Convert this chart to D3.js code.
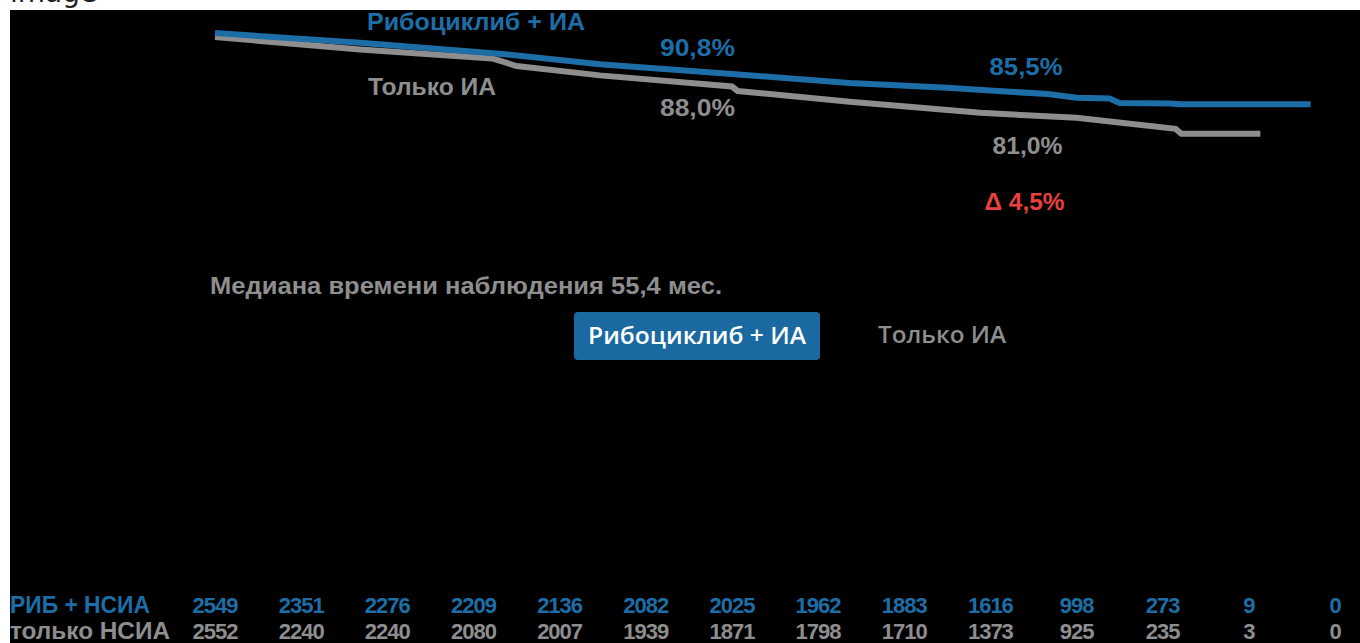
<!DOCTYPE html>
<html>
<head>
<meta charset="utf-8">
<script src="https://cdn.jsdelivr.net/npm/d3@7"></script>
<style>
  html, body { margin: 0; padding: 0; background: #ffffff; }
  svg { display: block; }
</style>
</head>
<body>
<svg id="chart" width="1360" height="643"></svg>
<script>
// Kaplan–Meier style survival curves (months vs. % event-free)
const ribTime = [0, 10.1, 20, 26.8, 36, 44.2, 51, 58, 60, 62.3, 63, 66.5, 67.2, 76.3];
const ribSurv = [100, 97.8, 95.3, 93.0, 90.8, 88.8, 87.7, 86.3, 85.5, 85.3, 84.3, 84.2, 84.0, 84.0];

const aiTime = [0, 10.1, 19.3, 21, 26.8, 36, 36.4, 44.2, 53.3, 60, 66.9, 67.3, 72.8];
const aiSurv = [99.1, 96.3, 94.3, 92.6, 90.5, 88.0, 87.0, 84.6, 82.1, 81.0, 78.5, 77.4, 77.4];

// Number-at-risk table
const riskMonths = [0, 6, 12, 18, 24, 30, 36, 42, 48, 54, 60, 66, 72, 78];
const riskRib = [2549, 2351, 2276, 2209, 2136, 2082, 2025, 1962, 1883, 1616, 998, 273, 9, 0];
const riskAI = [2552, 2240, 2240, 2080, 2007, 1939, 1871, 1798, 1710, 1373, 925, 235, 3, 0];
const riskLabels = ["РИБ + НСИА", "только НСИА"];

// Landmark estimates
const landmarkMonths = [36, 60];
const ribLandmark = [90.8, 85.5];
const aiLandmark = [88.0, 81.0];
const deltaLabel = "Δ 4,5%";

const seriesNames = ["Рибоциклиб + ИА", "Только ИА"];
const followUpText = "Медиана времени наблюдения 55,4 мес.";

const BLUE = "#1d6ea6";
const GRAY = "#8e8e8e";
const RED = "#ea403f";
const FONT = "'Liberation Sans', Arial, sans-serif";

const svg = d3.select("#chart");

// page strip and caption above the dark panel
svg.append("rect").attr("x", 0).attr("y", 0).attr("width", 1360).attr("height", 643).attr("fill", "#ffffff");
svg.append("text").attr("x", 10).attr("y", 2)
  .attr("font-family", "'DejaVu Sans', sans-serif").attr("font-size", 28)
  .attr("fill", "#222").text("image");
svg.append("rect").attr("x", 10).attr("y", 10).attr("width", 1350).attr("height", 633).attr("fill", "#000000");

const x = d3.scaleLinear().domain([0, 78]).range([215, 1335]);
const y = d3.scaleLinear().domain([0, 100]).range([479, 33]);

const line = d3.line()
  .x(d => x(d[0]))
  .y(d => y(d[1]))
  .curve(d3.curveLinear);

const aiData = d3.zip(aiTime, aiSurv);
const ribData = d3.zip(ribTime, ribSurv);

svg.append("path").datum(aiData)
  .attr("d", line).attr("fill", "none")
  .attr("stroke", GRAY).attr("stroke-width", 6);

svg.append("path").datum(ribData)
  .attr("d", line).attr("fill", "none")
  .attr("stroke", BLUE).attr("stroke-width", 6);

// text helper: fixed width via textLength
function label(txt, xPos, yPos, color, size, width, opts = {}) {
  const t = svg.append("text")
    .attr("x", xPos).attr("y", yPos)
    .attr("font-family", opts.family || FONT)
    .attr("font-weight", opts.weight || "bold")
    .attr("font-size", size)
    .attr("fill", color)
    .text(txt);
  if (width) t.attr("textLength", width).attr("lengthAdjust", "spacingAndGlyphs");
  if (opts.anchor) t.attr("text-anchor", opts.anchor);
  return t;
}

const pct = v => d3.format(".1f")(v).replace(".", ",") + "%";

// series names near the curves
label(seriesNames[0], 367, 30, BLUE, 24, 218);
label(seriesNames[1], 368, 95, GRAY, 24, 128);

// landmark values
label(pct(ribLandmark[0]), x(landmarkMonths[0]) - 72, 56, BLUE, 24, 75);
label(pct(aiLandmark[0]), x(landmarkMonths[0]) - 72, 116, GRAY, 24, 75);
label(pct(ribLandmark[1]), x(landmarkMonths[1]) - 87, 75, BLUE, 24, 73);
label(pct(aiLandmark[1]), x(landmarkMonths[1]) - 84, 154, GRAY, 24, 70);
label(deltaLabel, x(landmarkMonths[1]) - 92, 210, RED, 24, 80);

// follow-up note
label(followUpText, 210, 294, GRAY, 24, 512);

// legend
svg.append("rect").attr("x", 574).attr("y", 312).attr("width", 246).attr("height", 48)
  .attr("rx", 4).attr("fill", "#1a69a0");
label(seriesNames[0], 588, 344, "#ffffff", 23, 218, { family: "'Open Sans', sans-serif", weight: 600 });
label(seriesNames[1], 878, 343, GRAY, 23, 128, { family: "'Open Sans', sans-serif", weight: 600 });

// number-at-risk table
label(riskLabels[0], 10, 613, BLUE, 23, 140);
label(riskLabels[1], 10, 639, GRAY, 23, 160);

const riskRows = [
  { values: riskRib, color: BLUE, y: 613 },
  { values: riskAI, color: GRAY, y: 639 }
];
riskRows.forEach(row => {
  svg.append("g").selectAll("text")
    .data(d3.zip(riskMonths, row.values))
    .join("text")
    .attr("x", d => x(d[0]))
    .attr("y", row.y)
    .attr("text-anchor", "middle")
    .attr("font-family", FONT)
    .attr("font-weight", "bold")
    .attr("font-size", 22)
    .attr("letter-spacing", -1)
    .attr("fill", row.color)
    .text(d => d[1]);
});
</script>
</body>
</html>
